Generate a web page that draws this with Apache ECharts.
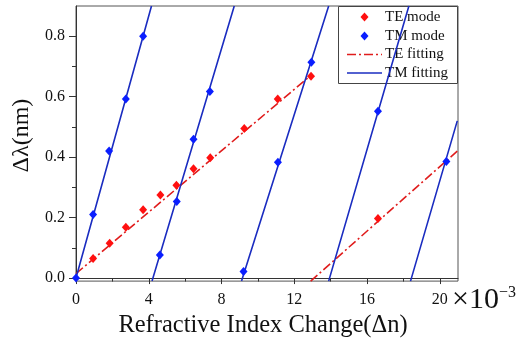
<!DOCTYPE html>
<html>
<head>
<meta charset="utf-8">
<script src="https://cdn.jsdelivr.net/npm/echarts@6/dist/echarts.min.js"></script>
<style>
html,body{margin:0;padding:0;background:#fff;}
#chart{width:517px;height:343px;}
</style>
</head>
<body>
<div id="chart"></div>
<script>
// ---- data (Δn in units of 1e-3, Δλ in nm) ----
var teModeX = [0.94, 1.85, 2.74, 3.69, 4.64, 5.52, 6.46, 7.38, 9.25, 11.09, 12.92, 16.6];
var teModeY = [0.065, 0.115, 0.168, 0.226, 0.275, 0.307, 0.362, 0.398, 0.495, 0.592, 0.668, 0.197];

var tmModeX = [0, 0.94, 1.82, 2.74, 3.69, 4.61, 5.54, 6.46, 7.36, 9.21, 11.1, 12.94, 16.6, 20.36];
var tmModeY = [0, 0.21, 0.42, 0.592, 0.80, 0.076, 0.253, 0.459, 0.617, 0.022, 0.383, 0.714, 0.552, 0.386];

// fitting line segments: start/end points of each segment
var teFitStartX = [0, 12.9];
var teFitStartY = [0.015, -0.01];
var teFitEndX = [13.0, 20.96];
var teFitEndY = [0.675, 0.42];

var tmFitStartX = [0, 4.18, 9.1, 13.89, 18.39];
var tmFitStartY = [0, -0.01, -0.01, -0.01, -0.01];
var tmFitEndX = [4.15, 8.7, 13.89, 18.3, 20.96];
var tmFitEndY = [0.9, 0.9, 0.9, 0.9, 0.52];

var xMajorTicks = [0, 4, 8, 12, 16, 20];
var xMinorTicks = [2, 6, 10, 14, 18];
var yMajorTicks = [0, 0.2, 0.4, 0.6, 0.8];
var yMinorTicks = [0.1, 0.3, 0.5, 0.7];

var xAxisTitle = 'Refractive Index Change(\u0394n)';
var yAxisTitle = '\u0394\u03bb(nm)';
var legendNames = ['TE mode', 'TM mode', 'TE fitting', 'TM fitting'];

// ---- build ----
function pairs(xs, ys) { return xs.map(function (x, i) { return [x, ys[i]]; }); }
function segments(sx, sy, ex, ey) {
  var out = [];
  for (var i = 0; i < sx.length; i++) {
    if (i > 0) out.push(['-', '-']);
    out.push([sx[i], sy[i]]);
    out.push([ex[i], ey[i]]);
  }
  return out;
}

var serif = '"Liberation Serif", "DejaVu Serif", serif';
var axisColor = '#333';
var RED = '#ff1010';
var RED_LINE = '#e01c1c';
var BLUE = '#0a1eff';
var BLUE_LINE = '#1a2cc0';
var TE_DASH = [9, 3, 2, 3];

// custom legend (drawn as graphic so icons keep their true shapes)
var LG = {x: 338.5, y: 6.5, w: 119, h: 77, rows: [17, 36, 54.5, 73], iconL: 347, iconR: 382, textX: 385};
function diamondPts(cx, cy) { return [[cx, cy - 4.5], [cx + 4, cy], [cx, cy + 4.5], [cx - 4, cy]]; }
var legendIcons = [
  {kind: 'diamond', color: RED},
  {kind: 'diamond', color: BLUE},
  {kind: 'line', color: RED_LINE, dash: TE_DASH},
  {kind: 'line', color: BLUE_LINE, dash: 'solid'}
];
var legendChildren = [{
  type: 'rect', shape: {x: LG.x, y: LG.y, width: LG.w, height: LG.h},
  style: {fill: '#fff', stroke: '#444', lineWidth: 1}
}];
legendNames.forEach(function (nm, i) {
  var cy = LG.rows[i], ic = legendIcons[i];
  if (ic.kind === 'diamond') {
    legendChildren.push({type: 'polygon', shape: {points: diamondPts((LG.iconL + LG.iconR) / 2, cy)}, style: {fill: ic.color}});
  } else {
    legendChildren.push({type: 'line', shape: {x1: LG.iconL, y1: cy, x2: LG.iconR, y2: cy},
      style: {stroke: ic.color, lineWidth: 1.6, lineDash: ic.dash === 'solid' ? null : ic.dash}});
  }
  legendChildren.push({type: 'text', x: LG.textX, y: cy,
    style: {text: nm, fontFamily: serif, fontSize: 15, fill: '#111', verticalAlign: 'middle', align: 'left'}});
});

var chart = echarts.init(document.getElementById('chart'), null, {renderer: 'canvas'});
chart.setOption({
  animation: false,
  backgroundColor: '#fff',
  grid: {left: 76, right: 59, top: 6, bottom: 56, show: true, borderColor: '#555', borderWidth: 1, backgroundColor: 'transparent'},
  xAxis: [{
    type: 'value', min: 0, max: 21,
    axisLine: {show: true, lineStyle: {color: axisColor, width: 1}},
    axisTick: {show: true, inside: false, length: 6, customValues: xMajorTicks, lineStyle: {color: axisColor}},
    axisLabel: {customValues: xMajorTicks, margin: 11, fontFamily: serif, fontSize: 16, color: '#111'},
    splitLine: {show: false},
    name: xAxisTitle, nameLocation: 'middle', nameGap: 30,
    nameTextStyle: {fontFamily: serif, fontSize: 24.5, color: '#111', padding: [0, 8, 0, 0]}
  }, {
    type: 'value', min: 0, max: 21, position: 'bottom',
    axisLine: {show: false},
    axisTick: {show: true, inside: false, length: 3.5, customValues: xMinorTicks, lineStyle: {color: axisColor}},
    axisLabel: {show: false},
    splitLine: {show: false}
  }],
  yAxis: [{
    type: 'value', min: -0.01, max: 0.9,
    axisLine: {show: true, lineStyle: {color: axisColor, width: 1}},
    axisTick: {show: true, inside: false, length: 7, customValues: yMajorTicks, lineStyle: {color: axisColor}},
    axisLabel: {customValues: yMajorTicks, margin: 11, fontFamily: serif, fontSize: 16, color: '#111',
      formatter: function (v) { return v.toFixed(1); }},
    splitLine: {show: false},
    name: yAxisTitle, nameLocation: 'middle', nameGap: 42, nameRotate: 90,
    nameTextStyle: {fontFamily: serif, fontSize: 24, color: '#111', padding: [0, 0, 0, 16]}
  }, {
    type: 'value', min: -0.01, max: 0.9, position: 'left',
    axisLine: {show: false},
    axisTick: {show: true, inside: false, length: 4, customValues: yMinorTicks, lineStyle: {color: axisColor}},
    axisLabel: {show: false},
    splitLine: {show: false}
  }],
  graphic: [{
    type: 'group', z: 100, children: legendChildren
  }, {
    type: 'text', left: 452, top: 285,
    style: {
      text: '{a|\u00d710}{b|\u22123}',
      rich: {
        a: {fontFamily: serif, fontSize: 30, fill: '#111', verticalAlign: 'bottom'},
        b: {fontFamily: serif, fontSize: 16, fill: '#111', verticalAlign: 'top'}
      }
    }
  }],
  series: [{
    name: 'TE fitting', type: 'line', xAxisIndex: 0, yAxisIndex: 0,
    data: segments(teFitStartX, teFitStartY, teFitEndX, teFitEndY),
    symbol: 'none', showSymbol: false, connectNulls: false, clip: true,
    lineStyle: {color: RED_LINE, width: 1.6, type: TE_DASH},
    itemStyle: {color: RED_LINE}, z: 2
  }, {
    name: 'TM fitting', type: 'line', xAxisIndex: 0, yAxisIndex: 0,
    data: segments(tmFitStartX, tmFitStartY, tmFitEndX, tmFitEndY),
    symbol: 'none', showSymbol: false, connectNulls: false, clip: true,
    lineStyle: {color: BLUE_LINE, width: 1.6},
    itemStyle: {color: BLUE_LINE}, z: 2
  }, {
    name: 'TE mode', type: 'scatter', xAxisIndex: 0, yAxisIndex: 0,
    data: pairs(teModeX, teModeY),
    symbol: 'diamond', symbolSize: [8, 9],
    itemStyle: {color: RED, opacity: 1}, z: 3
  }, {
    name: 'TM mode', type: 'scatter', xAxisIndex: 0, yAxisIndex: 0,
    data: pairs(tmModeX, tmModeY),
    symbol: 'diamond', symbolSize: [8, 9],
    itemStyle: {color: BLUE, opacity: 1}, z: 4
  }]
});
</script>
</body>
</html>
